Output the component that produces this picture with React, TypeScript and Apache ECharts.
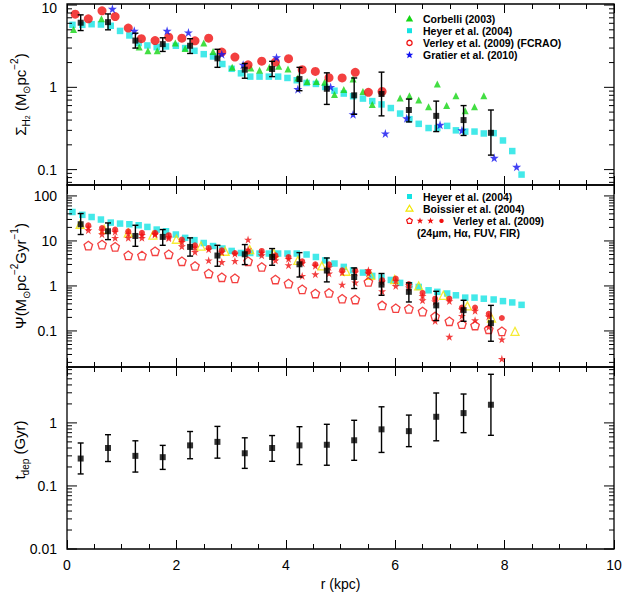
import React, { useEffect, useRef } from 'react';
import * as echarts from 'echarts';

const FONT = '"Liberation Sans", Arial, Helvetica, sans-serif';

// ---------- binned points (black squares with error bars) ----------
const BIN_R = [0.25, 0.75, 1.25, 1.75, 2.25, 2.75, 3.25, 3.75, 4.25, 4.75, 5.25, 5.75, 6.25, 6.75, 7.25, 7.75];

const SIGMA_VAL = [6.1, 6.2, 3.7, 3.35, 3.2, 2.25, 1.64, 1.67, 1.26, 0.96, 0.8, 0.83, 0.53, 0.45, 0.40, 0.28];
const SIGMA_LO = [4.9, 5.0, 3.0, 2.73, 2.58, 1.75, 1.29, 1.35, 0.91, 0.62, 0.47, 0.45, 0.38, 0.29, 0.26, 0.15];
const SIGMA_HI = [7.6, 7.8, 4.55, 4.0, 3.9, 2.9, 1.95, 2.07, 1.75, 1.5, 1.3, 1.53, 0.72, 0.68, 0.60, 0.53];

const PSI_VAL = [23.5, 16.4, 12.9, 12.3, 7.36, 4.74, 5.06, 4.4, 3.03, 2.2, 1.58, 1.07, 0.74, 0.37, 0.29, 0.149];
const PSI_LO = [13.9, 10.7, 7.6, 8.0, 4.6, 2.74, 2.98, 2.88, 1.58, 1.23, 0.875, 0.62, 0.44, 0.17, 0.164, 0.059];
const PSI_HI = [40.6, 25.1, 22.3, 17.9, 11.7, 8.0, 8.3, 6.77, 5.5, 4.18, 2.51, 1.89, 1.17, 0.76, 0.48, 0.37];

const TDEP_VAL = [0.272, 0.40, 0.30, 0.286, 0.44, 0.50, 0.33, 0.40, 0.44, 0.45, 0.53, 0.79, 0.74, 1.25, 1.43, 1.94];
const TDEP_LO = [0.155, 0.244, 0.166, 0.183, 0.27, 0.276, 0.19, 0.246, 0.218, 0.213, 0.255, 0.34, 0.42, 0.52, 0.7, 0.635];
const TDEP_HI = [0.48, 0.65, 0.52, 0.44, 0.73, 0.88, 0.58, 0.63, 0.87, 0.95, 1.1, 1.8, 1.33, 2.98, 2.87, 5.9];

// ---------- Heyer et al. (2004) ----------
const HEYER_R = [0.10, 0.28, 0.45, 0.62, 0.80, 0.97, 1.14, 1.31, 1.47, 1.64, 1.81, 1.99, 2.16, 2.33, 2.50, 2.67, 2.84, 3.01, 3.18, 3.35, 3.52, 3.69, 3.86, 4.03, 4.20, 4.38, 4.55, 4.72, 4.89, 5.06, 5.23, 5.41, 5.58, 5.75, 5.92, 6.09, 6.26, 6.43, 6.61, 6.77, 6.95, 7.11, 7.28, 7.45, 7.62, 7.80, 7.97, 8.14, 8.31];
const HEYER_SIGMA = [5.75, 5.75, 5.85, 5.8, 5.6, 4.85, 4.27, 3.45, 3.23, 3.08, 3.14, 3.2, 3.0, 2.78, 2.53, 2.37, 1.92, 1.68, 1.48, 1.35, 1.35, 1.35, 1.35, 1.3, 1.22, 1.13, 1.1, 1.01, 0.91, 0.84, 0.78, 0.73, 0.68, 0.62, 0.56, 0.48, 0.41, 0.36, 0.32, 0.32, 0.34, 0.30, 0.29, 0.29, 0.275, 0.277, 0.226, 0.168, 0.087];
const HEYER_PSI = [44, 38, 34, 29.9, 25.6, 24.3, 23.5, 22.3, 20.5, 17.9, 16.4, 13.9, 11.7, 10.4, 9.0, 7.7, 6.8, 6.0, 5.4, 5.4, 5.25, 5.25, 5.25, 5.25, 5.25, 5.0, 4.4, 3.7, 3.15, 2.65, 2.23, 1.98, 1.67, 1.54, 1.36, 1.17, 1.04, 0.95, 0.8, 0.74, 0.68, 0.62, 0.55, 0.55, 0.52, 0.5, 0.46, 0.43, 0.38];

// ---------- Corbelli (2003) ----------
const CORB_R = [0.12, 0.63, 1.32, 1.48, 1.65, 1.98, 2.16, 2.50, 2.67, 3.02, 3.36, 3.52, 3.70, 3.87, 4.04, 4.22, 4.39, 4.56, 4.71, 4.89, 5.06, 5.23, 5.41, 5.58, 6.09, 6.26, 6.43, 6.61, 6.77, 6.94, 7.11, 7.28, 7.45, 7.62];
const CORB_SIGMA = [5.05, 6.8, 3.1, 2.78, 2.78, 3.45, 2.97, 3.45, 2.73, 1.76, 1.72, 1.61, 1.76, 1.8, 1.67, 1.3, 1.18, 1.18, 1.15, 0.82, 0.94, 1.26, 0.89, 0.62, 0.74, 0.79, 0.70, 0.58, 1.1, 0.6, 0.79, 0.52, 0.58, 0.79];

// ---------- Verley et al. (2009) FCRAO ----------
const VFC_R = [0.15, 0.39, 0.64, 0.88, 1.12, 1.36, 1.61, 1.86, 2.10, 2.34, 2.59, 2.83, 3.07, 3.31, 3.56, 3.81, 4.05, 4.30, 4.54, 4.79, 5.03, 5.27, 5.51, 5.76];
const VFC_SIGMA = [7.75, 6.8, 8.5, 7.25, 5.25, 3.9, 3.7, 4.06, 3.96, 3.67, 3.96, 2.68, 2.33, 1.88, 2.08, 2.03, 2.23, 1.64, 1.56, 1.31, 1.3, 1.52, 0.87, 0.89];

// ---------- Gratier et al. (2010) ----------
const GRAT_R = [0.83, 1.23, 1.83, 2.22, 2.83, 3.22, 3.83, 4.22, 4.82, 5.23, 5.82, 6.21, 6.82, 7.22, 7.81, 8.22];
const GRAT_SIGMA = [9.0, 4.86, 4.86, 4.64, 2.53, 1.88, 2.31, 0.95, 1.01, 0.47, 0.275, 0.42, 0.35, 0.30, 0.139, 0.108];

// ---------- Boissier et al. (2004) ----------
const BOIS_R = [0.24, 0.68, 1.12, 1.57, 2.0, 2.45, 2.89, 3.34, 3.78, 4.22, 4.66, 5.10, 5.55, 5.99, 6.43, 6.88, 7.32, 7.76, 8.19];
const BOIS_PSI = [23.5, 18.2, 15.1, 13.4, 10.9, 7.7, 5.9, 6.4, 5.25, 3.7, 2.78, 2.12, 1.73, 1.39, 1.0, 0.62, 0.36, 0.194, 0.098];

// ---------- Verley et al. (2009) SFR tracers ----------
const VSF_R = [0.39, 0.64, 0.88, 1.12, 1.37, 1.61, 1.86, 2.10, 2.34, 2.59, 2.83, 3.07, 3.31, 3.56, 3.81, 4.05, 4.30, 4.54, 4.79, 5.03, 5.27, 5.51, 5.76, 6.01, 6.25, 6.50, 6.73, 6.99, 7.22, 7.46, 7.71, 7.95];
const V24_PSI = [7.9, 8.3, 7.4, 4.8, 4.74, 5.9, 5.06, 3.54, 2.78, 1.89, 1.56, 1.48, 3.54, 2.64, 1.39, 1.13, 0.84, 0.68, 0.70, 0.52, 0.50, 1.23, 0.37, 0.32, 0.31, 0.27, 0.21, 0.164, 0.141, 0.132, 0.109, 0.098];
const VHA_PSI = [17.3, 14.1, 11.7, 11.7, 11.7, 13.9, 12.3, 7.6, 5.7, 3.7, 3.4, 3.6, 10.7, 4.8, 3.7, 2.9, 1.67, 1.82, 1.89, 1.07, 1.19, 2.23, 0.76, 1.0, 1.04, 0.48, 0.167, 0.074, 0.216, 0.173, 0.123, 0.065];
const VFUV_PSI = [20, 17, 16, 14.5, 13.5, 14.5, 11.5, 9.5, 7.2, 6.5, 5.6, 5.2, 6.5, 5.5, 4.4, 4.0, 3.2, 2.8, 2.6, 2.0, 2.0, 1.9, 1.25, 1.3, 0.92, 0.6, 0.45, 0.46, 0.3, 0.28, 0.21, 0.024];
const VFIR_PSI = [22.3, 19.4, 17.9, 16.4, 15.1, 15.1, 13.4, 10.7, 8.0, 7.0, 6.2, 5.4, 5.8, 6.0, 4.8, 4.4, 3.54, 3.03, 3.03, 2.23, 2.23, 2.05, 1.34, 1.46, 1.1, 0.70, 0.52, 0.52, 0.33, 0.33, 0.24, 0.194];

// ---------- axes ----------
const X_TICK_LABELS = [0, 2, 4, 6, 8, 10];
const Y1_RANGE = [0.065, 10.3];
const Y2_RANGE = [0.0158, 175];
const Y3_RANGE = [0.01, 7.7];

const STAR = 'path://M50,0L61.2,34.5L97.6,34.5L68.2,55.9L79.4,90.5L50,69.1L20.6,90.5L31.8,55.9L2.4,34.5L38.8,34.5Z';
const PENTA = 'path://M50,0L97.6,34.5L79.4,90.5L20.6,90.5L2.4,34.5Z';

const zip = (xs: number[], ys: number[]) => xs.map((x, i) => [x, ys[i]]);
const errData = (lo: number[], hi: number[]) => BIN_R.map((r, i) => [r, lo[i], hi[i]]);

function logTicks(min: number, max: number) {
  const out: number[][] = [];
  for (let e = -3; e <= 3; e++) {
    for (let m = 1; m <= 9; m++) {
      const v = +(m * Math.pow(10, e)).toPrecision(6);
      if (v >= min * 0.999 && v <= max * 1.001) out.push([0, v, m === 1 ? 1 : 0]);
    }
  }
  return out;
}

function starPts(cx: number, cy: number, R: number) {
  const pts: number[][] = [];
  for (let k = 0; k < 10; k++) {
    const rr = k % 2 === 0 ? R : R * 0.42;
    const a = -Math.PI / 2 + (k * Math.PI) / 5;
    pts.push([cx + rr * Math.cos(a), cy + rr * Math.sin(a)]);
  }
  return pts;
}
function pentaPts(cx: number, cy: number, R: number) {
  const pts: number[][] = [];
  for (let k = 0; k < 5; k++) {
    const a = -Math.PI / 2 + (k * 2 * Math.PI) / 5;
    pts.push([cx + R * Math.cos(a), cy + R * Math.sin(a)]);
  }
  return pts;
}

const errRender = (params: any, api: any) => {
  const x = api.value(0);
  const p1 = api.coord([x, api.value(1)]);
  const p2 = api.coord([x, api.value(2)]);
  const c = 3;
  const st = { stroke: '#000', lineWidth: 1.4 };
  return {
    type: 'group',
    children: [
      { type: 'line', shape: { x1: p1[0], y1: p1[1], x2: p2[0], y2: p2[1] }, style: st },
      { type: 'line', shape: { x1: p1[0] - c, y1: p1[1], x2: p1[0] + c, y2: p1[1] }, style: st },
      { type: 'line', shape: { x1: p2[0] - c, y1: p2[1], x2: p2[0] + c, y2: p2[1] }, style: st },
    ],
  };
};

const tickRender = (params: any, api: any) => {
  const cs = params.coordSys;
  const y = api.coord([0, api.value(1)])[1];
  const len = api.value(2) ? 10 : 5;
  const st = { stroke: '#000', lineWidth: 1 };
  return {
    type: 'group',
    children: [
      { type: 'line', shape: { x1: cs.x, y1: y, x2: cs.x + len, y2: y }, style: st },
      { type: 'line', shape: { x1: cs.x + cs.width - len, y1: y, x2: cs.x + cs.width, y2: y }, style: st },
    ],
  };
};

const logFmt = (v: number) => {
  const l = Math.log10(v);
  if (Math.abs(l - Math.round(l)) > 1e-6) return '';
  const s = String(+Math.pow(10, Math.round(l)).toPrecision(3));
  return '{d|' + s + '}';
};
const logFmtTop = (v: number) => {
  const s = logFmt(v);
  return s === '{d|10}' ? '{top|10}' : s;
};

const TS = 15;
const RICH: any = {
  n: { fontSize: TS, lineHeight: 22, fontFamily: FONT, fill: '#000', color: '#000' },
  s: { fontSize: 10, lineHeight: 12, verticalAlign: 'bottom', fontFamily: FONT, fill: '#000', color: '#000' },
  ss: { fontSize: 7, lineHeight: 8, verticalAlign: 'bottom', fontFamily: FONT, fill: '#000', color: '#000' },
  p: { fontSize: 10, lineHeight: 12, verticalAlign: 'top', fontFamily: FONT, fill: '#000', color: '#000' },
};

const TITLE_SIGMA = '{n|\u03a3}{s|H}{ss|2}{n| (M}{s|\u2299}{n|pc}{p|\u22122}{n|)}';
const TITLE_PSI = '{n|\u03a8(M}{s|\u2299}{n|pc}{p|\u22122}{n|Gyr}{p|\u22121}{n|)}';
const TITLE_TDEP = '{n|t}{s|dep}{n| (Gyr)}';

export default function App() {
  const ref = useRef<HTMLDivElement>(null);
  useEffect(() => {
    if (!ref.current) return;
    const chart = echarts.init(ref.current, null, { renderer: 'svg' });

    const grids = [
      { left: 67, right: 9, top: 4, height: 181 },
      { left: 67, right: 9, top: 185, height: 182 },
      { left: 67, right: 9, top: 367, height: 182 },
    ].map((g) => ({ ...g, show: true, borderColor: '#000', borderWidth: 1.3, outerBoundsMode: 'none', containLabel: false }));

    const xAx = (gridIndex: number, position: string, showLabel: boolean) => ({
      type: 'value',
      gridIndex,
      position,
      min: X_TICK_LABELS[0],
      max: X_TICK_LABELS[X_TICK_LABELS.length - 1],
      interval: X_TICK_LABELS[1] - X_TICK_LABELS[0],
      axisLine: { show: false },
      splitLine: { show: false },
      axisTick: { show: true, inside: true, length: 9, lineStyle: { color: '#000', width: 1 } },
      minorTick: { show: true, splitNumber: 4, length: 5, lineStyle: { color: '#000', width: 1 } },
      axisLabel: { show: showLabel, margin: 9, fontSize: 14, color: '#000', fontFamily: FONT },
      name: showLabel && position === 'bottom' ? 'r (kpc)' : '',
      nameLocation: 'middle',
      nameGap: 28,
      nameTextStyle: { fontSize: 14, color: '#000', fontFamily: FONT },
    });

    const labelRich = {
      d: { fontSize: 14, color: '#000', fontFamily: FONT },
      top: { fontSize: 14, color: '#000', fontFamily: FONT, padding: [6, 0, 0, 0] },
    };
    const yAx = (gridIndex: number, range: number[], fmt: any) => ({
      type: 'log',
      logBase: 10,
      gridIndex,
      min: range[0],
      max: range[1],
      axisLine: { show: false },
      splitLine: { show: false },
      axisTick: { show: false },
      minorTick: { show: false },
      axisLabel: { formatter: fmt, margin: 10, fontSize: 14, color: '#000', fontFamily: FONT, rich: labelRich },
    });

    const sc = (axis: number, data: number[][], symbol: string, size: number, itemStyle: any, z = 2) => ({
      type: 'scatter',
      xAxisIndex: axis,
      yAxisIndex: axis,
      data,
      symbol,
      symbolSize: size,
      itemStyle,
      z,
      silent: true,
    });
    const err = (axis: number, data: number[][]) => ({
      type: 'custom', xAxisIndex: axis, yAxisIndex: axis, data, renderItem: errRender, z: 4, silent: true,
    });
    const ticks = (axis: number, range: number[]) => ({
      type: 'custom', xAxisIndex: axis, yAxisIndex: axis, data: logTicks(range[0], range[1]), renderItem: tickRender, z: 6, silent: true, clip: false,
    });

    const CYAN = '#14e3e3';
    const GREEN = '#14d614';
    const RED = '#f01010';
    const BLUE = '#1010f0';
    const YELLOW = '#f2e600';
    const open = (c: string) => ({ color: 'rgba(0,0,0,0)', borderColor: c, borderWidth: 1.3 });

    const series: any[] = [
      // panel 1
      sc(0, zip(HEYER_R, HEYER_SIGMA), 'rect', 6.5, { color: CYAN }),
      sc(0, zip(CORB_R, CORB_SIGMA), 'triangle', 7, { color: GREEN }),
      sc(0, zip(VFC_R, VFC_SIGMA), 'circle', 9, { color: RED }),
      sc(0, zip(GRAT_R, GRAT_SIGMA), STAR, 9, { color: BLUE }),
      err(0, errData(SIGMA_LO, SIGMA_HI)),
      sc(0, zip(BIN_R, SIGMA_VAL), 'rect', 6, { color: '#000' }, 5),
      ticks(0, Y1_RANGE),
      // panel 2
      sc(1, zip(HEYER_R, HEYER_PSI), 'rect', 6.5, { color: CYAN }),
      sc(1, zip(BOIS_R, BOIS_PSI), 'triangle', 8, open(YELLOW)),
      sc(1, zip(VSF_R, V24_PSI), PENTA, 8.5, open(RED)),
      sc(1, zip(VSF_R, VHA_PSI), STAR, 8, { color: RED }),
      sc(1, zip(VSF_R, VFUV_PSI), STAR, 8, { color: RED }),
      sc(1, zip(VSF_R, VFIR_PSI), 'circle', 6, { color: RED }),
      err(1, errData(PSI_LO, PSI_HI)),
      sc(1, zip(BIN_R, PSI_VAL), 'rect', 6, { color: '#000' }, 5),
      ticks(1, Y2_RANGE),
      // panel 3
      err(2, errData(TDEP_LO, TDEP_HI)),
      sc(2, zip(BIN_R, TDEP_VAL), 'rect', 6, { color: '#000' }, 5),
      ticks(2, Y3_RANGE),
    ];

    const LF = 'bold 10.5px "Liberation Sans", Arial, sans-serif';
    const txt = (x: number, y: number, t: string) => ({
      type: 'text', x, y, style: { text: t, font: LF, fill: '#000', verticalAlign: 'middle' }, z: 10,
    });
    const title = (x: number, y: number, t: string) => ({
      type: 'text', x, y, rotation: Math.PI / 2,
      style: { text: t, rich: RICH, align: 'center', verticalAlign: 'middle', fill: '#000', fontFamily: FONT, fontSize: TS },
      z: 10,
    });
    const R1 = [18.5, 30.7, 42.9, 55.1];
    const R2 = [196.5, 208.7, 220.9, 233.1];
    const graphic: any[] = [
      title(20, 94.5, TITLE_SIGMA),
      title(20, 276, TITLE_PSI),
      title(19, 450, TITLE_TDEP),
      // legend panel 1
      { type: 'polygon', shape: { points: [[409.5, R1[0] - 3.5], [413.2, R1[0] + 3], [405.8, R1[0] + 3]] }, style: { fill: GREEN } },
      txt(423, R1[0], 'Corbelli (2003)'),
      { type: 'rect', shape: { x: 407, y: R1[1] - 2.5, width: 5, height: 5 }, style: { fill: CYAN } },
      txt(423, R1[1], 'Heyer et al. (2004)'),
      { type: 'circle', shape: { cx: 409.5, cy: R1[2], r: 2.6 }, style: { fill: 'none', stroke: RED, lineWidth: 1.3 } },
      txt(423, R1[2], 'Verley et al. (2009) (FCRAO)'),
      { type: 'polygon', shape: { points: starPts(409.5, R1[3], 4) }, style: { fill: BLUE } },
      txt(423, R1[3], 'Gratier et al. (2010)'),
      // legend panel 2
      { type: 'rect', shape: { x: 407, y: R2[0] - 2.5, width: 5, height: 5 }, style: { fill: CYAN } },
      txt(423, R2[0], 'Heyer et al. (2004)'),
      { type: 'polygon', shape: { points: [[409.5, R2[1] - 3.5], [413, R2[1] + 2.5], [406, R2[1] + 2.5]] }, style: { fill: 'none', stroke: YELLOW, lineWidth: 1.2 } },
      txt(423, R2[1], 'Boissier et al. (2004)'),
      { type: 'polygon', shape: { points: pentaPts(409.5, R2[2], 3) }, style: { fill: 'none', stroke: RED, lineWidth: 1.2 } },
      { type: 'polygon', shape: { points: starPts(420, R2[2], 3.5) }, style: { fill: RED } },
      { type: 'polygon', shape: { points: starPts(430.5, R2[2], 3.5) }, style: { fill: RED } },
      { type: 'circle', shape: { cx: 441.5, cy: R2[2], r: 2.2 }, style: { fill: RED } },
      txt(453, R2[2], 'Verley et al. (2009)'),
      txt(417, R2[3], '(24\u03bcm, H\u03b1, FUV, FIR)'),
    ];

    chart.setOption({
      animation: false,
      backgroundColor: '#fff',
      grid: grids,
      xAxis: [
        xAx(0, 'bottom', false),
        xAx(1, 'bottom', false),
        xAx(2, 'bottom', true),
        xAx(0, 'top', false),
        xAx(1, 'top', false),
        xAx(2, 'top', false),
      ],
      yAxis: [
        yAx(0, Y1_RANGE, logFmtTop),
        yAx(1, Y2_RANGE, logFmt),
        yAx(2, Y3_RANGE, logFmt),
      ],
      series,
      graphic,
    });
    return () => chart.dispose();
  }, []);
  return <div ref={ref} style={{ position: 'absolute', left: 0, top: 0, width: 623, height: 599, background: '#fff' }} />;
}
